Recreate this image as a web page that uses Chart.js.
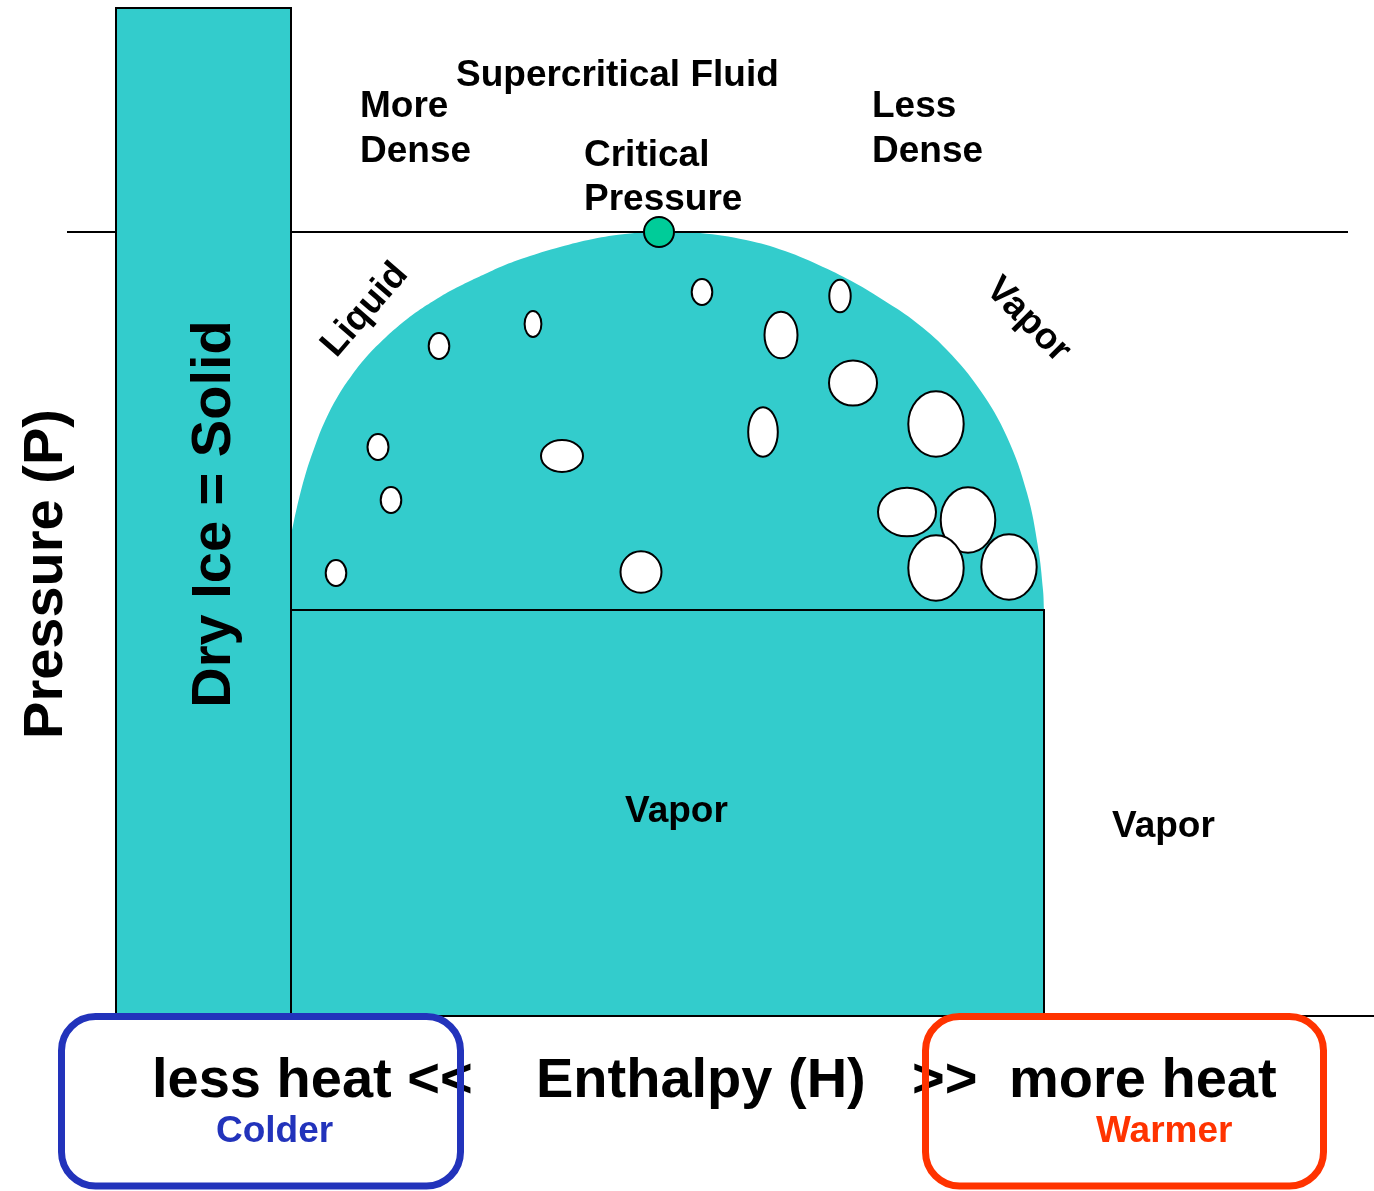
<!DOCTYPE html>
<html>
<head>
<meta charset="utf-8">
<script src="https://cdn.jsdelivr.net/npm/chart.js@4.4.1/dist/chart.umd.min.js"></script>
<style>
  html, body { margin: 0; padding: 0; background: #fff; }
  canvas { display: block; }
</style>
</head>
<body>
<canvas id="phase" width="1374" height="1191"></canvas>
<script>
// enthalpy (H) along x, pressure (P) along y - arbitrary units
const domeH = [29.1, 29.7, 30.5, 31.5, 32.5, 33.8, 35.2, 36.8, 38.5, 40.2, 41.8, 43.5, 45.2, 47.0, 48.5, 50.5, 53.0, 56.0,
               59.3, 62.5, 66.0, 70.0, 74.6, 78.5, 82.3, 85.5, 88.0, 91.3, 94.7, 98.0, 100.7, 102.7, 103.8, 104.3, 104.4];
const domeP = [65.6, 68.4, 71.5, 74.5, 77.0, 79.5, 81.6, 83.6, 85.3, 86.8, 88.0, 89.1, 90.1, 91.0, 91.7, 92.6, 93.5, 94.4,
               95.2, 95.7, 95.9, 95.8, 95.1, 94.0, 92.4, 90.8, 89.3, 87.1, 84.1, 80.1, 75.4, 69.8, 64.4, 60.1, 58.1];

const criticalH = 65.9;
const criticalP = 95.9;
const criticalLineH = [6.7, 134.8];

const solidH = [11.6, 29.1];
const solidP = [17.5, 118.3];
const vaporH = [29.1, 104.4];
const vaporP = [17.5, 58.1];
const floorH = [11.6, 137.4];
const floorP = 17.5;

// bubbles: centre and half-width / half-height
const bubbleH  = [43.9, 53.3, 70.2, 84.0, 78.1, 85.3, 93.6, 76.3, 56.2, 37.8, 39.1, 33.6, 64.1, 90.7, 96.8, 93.6, 100.9];
const bubbleP  = [84.5, 86.7, 89.9, 89.5, 85.6, 80.8, 76.7, 75.9, 73.5, 74.4, 69.1, 61.8, 61.9, 67.9, 67.1, 62.3, 62.4];
const bubbleRx = [1.03, 0.84, 1.03, 1.07, 1.65, 2.4, 2.77, 1.48, 2.1, 1.05, 1.03, 1.03, 2.05, 2.9, 2.73, 2.77, 2.77];
const bubbleRy = [1.3, 1.3, 1.3, 1.63, 2.33, 2.25, 3.27, 2.47, 1.6, 1.3, 1.3, 1.3, 2.07, 2.43, 3.27, 3.27, 3.27];

const TEAL = '#33CCCC';
const FONT = '"Liberation Sans", Arial, Helvetica, sans-serif';

function rectPoints(h, p) {
    return [
        { x: (h[0] + h[1]) / 2, y: p[1] },
        { x: h[1], y: p[1] },
        { x: h[1], y: p[0] },
        { x: h[0], y: p[0] },
        { x: h[0], y: p[1] },
        { x: (h[0] + h[1]) / 2, y: p[1] }
    ];
}

const domeData = domeH.map((h, i) => ({ x: h, y: domeP[i] }));
const bubbleData = bubbleH.map((h, i) => ({ x: h, y: bubbleP[i] }));

// draws the bubbles as ellipses at the points the library placed
const ellipseBubbles = {
    id: 'ellipseBubbles',
    afterDatasetDraw(chart, args) {
        if (chart.data.datasets[args.index].label !== 'bubbles') return;
        const { ctx, scales: { x, y } } = chart;
        ctx.save();
        args.meta.data.forEach((el, i) => {
            const rx = Math.abs(x.getPixelForValue(bubbleH[i] + bubbleRx[i]) - el.x);
            const ry = Math.abs(y.getPixelForValue(bubbleP[i] + bubbleRy[i]) - el.y);
            ctx.beginPath();
            ctx.ellipse(el.x, el.y, rx, ry, 0, 0, Math.PI * 2);
            ctx.fillStyle = '#fff';
            ctx.fill();
            ctx.lineWidth = 2;
            ctx.strokeStyle = '#000';
            ctx.stroke();
        });
        ctx.restore();
    }
};

function roundBox(ctx, x0, y0, x1, y1, r, color) {
    ctx.beginPath();
    ctx.moveTo(x0 + r, y0);
    ctx.arcTo(x1, y0, x1, y1, r);
    ctx.arcTo(x1, y1, x0, y1, r);
    ctx.arcTo(x0, y1, x0, y0, r);
    ctx.arcTo(x0, y0, x1, y0, r);
    ctx.closePath();
    ctx.lineWidth = 7;
    ctx.strokeStyle = color;
    ctx.stroke();
}

const labels = {
    id: 'labels',
    afterDraw(chart) {
        const ctx = chart.ctx;
        ctx.save();
        const txt = (t, x, y, size, color, align) => {
            ctx.font = 'bold ' + size + 'px ' + FONT;
            ctx.fillStyle = color || '#000';
            ctx.textAlign = align || 'left';
            ctx.textBaseline = 'alphabetic';
            ctx.fillText(t, x, y);
        };
        const rot = (t, x, y, size, deg, base) => {
            ctx.save();
            ctx.translate(x, y);
            ctx.rotate(deg * Math.PI / 180);
            ctx.font = 'bold ' + size + 'px ' + FONT;
            ctx.fillStyle = '#000';
            ctx.textAlign = 'center';
            ctx.textBaseline = base || 'alphabetic';
            ctx.fillText(t, 0, 0);
            ctx.restore();
        };

        txt('Supercritical Fluid', 456, 86, 37);
        txt('More', 360, 117, 37);
        txt('Dense', 360, 162, 37);
        txt('Critical', 584, 166, 37);
        txt('Pressure', 584, 210, 37);
        txt('Less', 872, 117, 37);
        txt('Dense', 872, 162, 37);
        txt('Vapor', 625, 822, 37);
        txt('Vapor', 1112, 837, 37);

        rot('Pressure (P)', 62, 574, 56, -90);
        rot('Dry Ice = Solid', 230, 514, 56, -90);
        rot('Liquid', 365, 310, 37, -49, 'middle');
        rot('Vapor', 1028, 320, 37, 45, 'middle');

        txt('less heat <<', 152, 1097, 56);
        txt('Enthalpy (H)', 536, 1097, 56);
        txt('>>', 912, 1097, 56);
        txt('more heat', 1009, 1097, 56);
        txt('Colder', 216, 1142, 37, '#2233BB');
        txt('Warmer', 1096, 1142, 37, '#FF3300');

        roundBox(ctx, 61.5, 1016.5, 460.5, 1186, 34, '#2233BB');
        roundBox(ctx, 925.5, 1016.5, 1323.5, 1186, 34, '#FF3300');
        ctx.restore();
    }
};

const ctx = document.getElementById('phase');
new Chart(ctx, {
    type: 'line',
    data: {
        datasets: [
            {
                label: 'dome',
                data: domeData,
                fill: { value: vaporP[1] },
                backgroundColor: TEAL,
                borderWidth: 0,
                borderColor: 'rgba(0,0,0,0)',
                pointRadius: 0,
                tension: 0.4,
                order: 6
            },
            {
                label: 'critical pressure',
                data: criticalLineH.map(h => ({ x: h, y: criticalP })),
                borderColor: '#000',
                borderWidth: 2,
                pointRadius: 0,
                fill: false,
                order: 5
            },
            {
                label: 'vapor',
                data: rectPoints(vaporH, vaporP),
                fill: 'shape',
                backgroundColor: TEAL,
                borderColor: '#000',
                borderWidth: 2,
                borderJoinStyle: 'miter',
                pointRadius: 0,
                order: 4
            },
            {
                label: 'solid',
                data: rectPoints(solidH, solidP),
                fill: 'shape',
                backgroundColor: TEAL,
                borderColor: '#000',
                borderWidth: 2,
                borderJoinStyle: 'miter',
                pointRadius: 0,
                order: 3
            },
            {
                label: 'floor',
                data: floorH.map(h => ({ x: h, y: floorP })),
                borderColor: '#000',
                borderWidth: 2,
                pointRadius: 0,
                fill: false,
                order: 2
            },
            {
                label: 'bubbles',
                data: bubbleData,
                showLine: false,
                pointRadius: 0,
                order: 1
            },
            {
                label: 'critical point',
                data: [{ x: criticalH, y: criticalP }],
                showLine: false,
                pointRadius: 15,
                pointBackgroundColor: '#00CC99',
                pointBorderColor: '#000',
                pointBorderWidth: 2,
                order: 0
            }
        ]
    },
    options: {
        responsive: false,
        devicePixelRatio: 1,
        animation: false,
        layout: { padding: 0, autoPadding: false },
        scales: {
            x: { type: 'linear', min: 0, max: 137.4, display: false },
            y: { type: 'linear', min: 0, max: 119.1, display: false }
        },
        plugins: {
            legend: { display: false },
            tooltip: { enabled: false }
        }
    },
    plugins: [ellipseBubbles, labels]
});
</script>
</body>
</html>
